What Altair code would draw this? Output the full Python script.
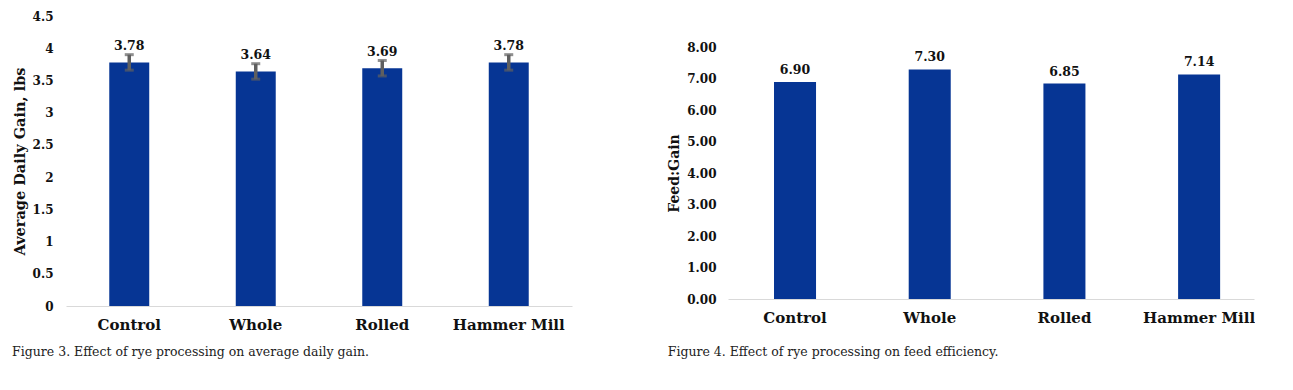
import altair as alt
import pandas as pd

treatments = ["Control", "Whole", "Rolled", "Hammer Mill"]
adg = [3.78, 3.64, 3.69, 3.78]
adg_err = [0.12, 0.12, 0.12, 0.12]
feed_gain = [6.90, 7.30, 6.85, 7.14]

adg_ticks = [0, 0.5, 1, 1.5, 2, 2.5, 3, 3.5, 4, 4.5]
fg_ticks = [0, 1, 2, 3, 4, 5, 6, 7, 8]

BAR = "#063594"
ERR = "#5f5f5f"
FONT = "DejaVu Serif"
CAP_FONT = "DejaVu Serif"

df1 = pd.DataFrame({"t": treatments, "v": adg, "e": adg_err})
df1["lo"] = df1["v"] - df1["e"]
df1["hi"] = df1["v"] + df1["e"]
df1["lab"] = [f"{v:.2f}" for v in adg]

df2 = pd.DataFrame({"t": treatments, "v": feed_gain})
df2["lab"] = [f"{v:.2f}" for v in feed_gain]

x1 = alt.X("t:N", sort=treatments, title=None,
           scale=alt.Scale(paddingInner=0.684, paddingOuter=0.342),
           axis=alt.Axis(labelAngle=0, labelFont=FONT, labelFontSize=15, labelFontWeight="bold",
                         labelColor="#111", labelPadding=11, ticks=False,
                         domainColor="#d9d9d9", domainWidth=1))
sc1 = alt.Scale(domain=[0, 4.5], nice=False)
ax1 = alt.Axis(values=adg_ticks, labelExpr="'' + datum.value", labelOverlap=False,
               tickCount=len(adg_ticks),
               grid=False, domain=False, ticks=False,
               labelFont=FONT, labelFontSize=12, labelFontWeight="bold", labelColor="#111",
               labelPadding=13, titleFont=FONT, titleFontSize=14.5, titleFontWeight="bold",
               titleColor="#111", titlePadding=5)
T1 = "Average Daily Gain, lbs"

base1 = alt.Chart(df1).encode(x=x1)
bars1 = base1.mark_bar(color=BAR).encode(y=alt.Y("v:Q", title=T1, scale=sc1, axis=ax1))
rule1 = base1.mark_rule(color=ERR, strokeWidth=3.5).encode(
    y=alt.Y("lo:Q", title=T1, scale=sc1, axis=ax1), y2="hi:Q")
capl = base1.mark_tick(color=ERR, thickness=3, size=9).encode(
    y=alt.Y("lo:Q", title=T1, scale=sc1, axis=ax1))
caph = base1.mark_tick(color=ERR, thickness=3, size=9).encode(
    y=alt.Y("hi:Q", title=T1, scale=sc1, axis=ax1))
text1 = base1.mark_text(font=FONT, fontSize=12.5, fontWeight="bold", color="#111",
                        baseline="alphabetic", dy=-12).encode(
    y=alt.Y("v:Q", title=T1, scale=sc1, axis=ax1), text="lab:N")

left = alt.layer(bars1, rule1, capl, caph, text1).properties(
    width=506, height=290,
    title=alt.TitleParams("Figure 3. Effect of rye processing on average daily gain.",
                          orient="bottom", anchor="start", frame="bounds",
                          font=CAP_FONT, fontSize=12.5, fontWeight="normal", color="#222", offset=14))

x2 = alt.X("t:N", sort=treatments, title=None,
           scale=alt.Scale(paddingInner=0.688, paddingOuter=0.2965, align=0.576),
           axis=alt.Axis(labelAngle=0, labelFont=FONT, labelFontSize=15, labelFontWeight="bold",
                         labelColor="#111", labelPadding=11, ticks=False,
                         domainColor="#d9d9d9", domainWidth=1))
sc2 = alt.Scale(domain=[0, 9], nice=False)
ax2 = alt.Axis(values=fg_ticks, format=".2f", labelOverlap=False, tickCount=len(fg_ticks),
               grid=False, domain=False, ticks=False,
               labelFont=FONT, labelFontSize=12, labelFontWeight="bold", labelColor="#111",
               labelPadding=12, titleFont=FONT, titleFontSize=14, titleFontWeight="bold",
               titleColor="#111", titlePadding=5, titleY=157)
T2 = "Feed:Gain"

base2 = alt.Chart(df2).encode(x=x2)
bars2 = base2.mark_bar(color=BAR).encode(y=alt.Y("v:Q", title=T2, scale=sc2, axis=ax2))
text2 = base2.mark_text(font=FONT, fontSize=12.5, fontWeight="bold", color="#111",
                        baseline="alphabetic", dy=-8).encode(
    y=alt.Y("v:Q", title=T2, scale=sc2, axis=ax2), text="lab:N")

right = alt.layer(bars2, text2).properties(
    width=526, height=283,
    title=alt.TitleParams("Figure 4. Effect of rye processing on feed efficiency.",
                          orient="bottom", anchor="start", frame="bounds",
                          font=CAP_FONT, fontSize=12.5, fontWeight="normal", color="#222", offset=21))

chart = alt.hconcat(left, right, spacing=156, bounds="flush").properties(
    padding={"left": 4, "top": 2, "right": 0, "bottom": 0}
).configure_view(stroke=None).configure_axis(labelOverlap=False)

chart.save("out.html", embed_options={"renderer": "svg", "actions": False})
